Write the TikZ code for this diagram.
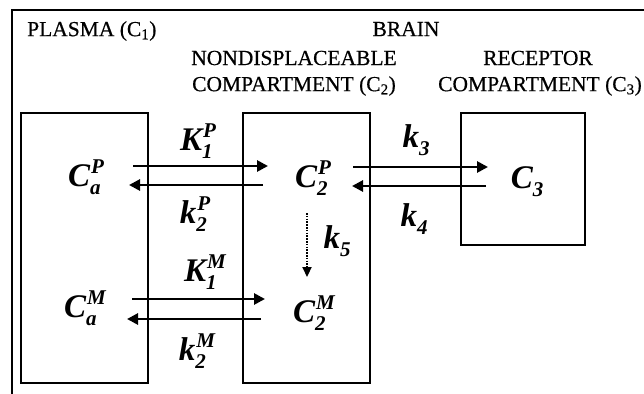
\documentclass[tikz,border=0pt]{standalone}
\usepackage{fontspec}
\setmainfont{Liberation Serif}
\newfontfamily\headfont{Liberation Serif}[FakeBold=0.5]
\usetikzlibrary{arrows.meta}
% symbol with subscript and superscript stacked after it
\newsavebox\supbox
\newsavebox\subbox
\newcommand\csym[3]{#1%
  \sbox\supbox{\fontsize{21}{21}\selectfont #3}%
  \sbox\subbox{\fontsize{21}{21}\selectfont #2}%
  \kern1pt\rlap{\raisebox{13pt}{\usebox\supbox}}%
  \kern-1pt\raisebox{-8pt}{\usebox\subbox}%
  \ifdim\wd\supbox>\wd\subbox \kern\dimexpr\wd\supbox-\wd\subbox+1pt\relax\fi}
\newcommand\csub[2]{#1\raisebox{-8pt}{\fontsize{21}{21}\selectfont #2}}
\begin{document}
\begin{tikzpicture}[x=1pt,y=-1pt,
  comp/.style={draw,line width=2.8pt,inner sep=0pt,outer sep=0pt},
  head/.style={font=\headfont\fontsize{21.5}{23}\selectfont,inner sep=0pt},
  sym/.style={font=\fontsize{33}{35}\selectfont\bfseries\itshape,inner sep=0pt},
  flow/.style={line width=2.7pt,-{Triangle[length=11pt,width=11pt]}},
  slowflow/.style={line width=2.2pt,dash pattern=on 1.6pt off 1.2pt,-{Triangle[length=10pt,width=9pt]}}]
\useasboundingbox (0,0) rectangle (644,393);

% open frame round the whole scheme
\coordinate (frameTR) at (646,10);
\coordinate (frameTL) at (12,10);
\coordinate (frameBL) at (12,395);
\draw[line width=2.2pt] (frameTR) -- (frameTL) -- (frameBL);

% headings
\node[head,anchor=west] (hplasma) at (27,31) {PLASMA (C\textsubscript{1})};
\node[head] (hbrain) at (406,29) {BRAIN};
\node[head] (hnd1) at (294,58) {NONDISPLACEABLE};
\node[head] (hnd2) at (294,86) {COMPARTMENT (C\textsubscript{2})};
\node[head] (hrec1) at (538,58) {RECEPTOR};
\node[head] (hrec2) at (540,86) {COMPARTMENT (C\textsubscript{3})};

% compartments
\node[comp,minimum width=127pt,minimum height=270pt] (plasma) at (84.5,248) {};
\node[comp,minimum width=127pt,minimum height=270pt] (nondisp) at (306.5,248) {};
\node[comp,minimum width=124pt,minimum height=132pt] (receptor) at (523,179) {};

% concentrations
\node[sym] (CaP) at (86,177) {\csym{C}{a}{P}};
\node[sym] (CaM) at (85,308) {\csym{C}{a}{M}};
\node[sym] (C2P) at (313,178) {\csym{C}{2}{P}};
\node[sym] (C2M) at (314,313) {\csym{C}{2}{M}};
\node[sym] (C3) at (527,182) {\csub{C}{3}};

% rate constants
\node[sym] (K1P) at (198,141) {\csym{K}{1}{P}};
\node[sym] (k2P) at (195,214) {\csym{k}{2}{P}};
\node[sym] (K1M) at (205,272) {\csym{K}{1}{M}};
\node[sym] (k2M) at (197,351) {\csym{k}{2}{M}};
\node[sym] (k3) at (416,140) {\csub{k}{3}};
\node[sym] (k4) at (414,219) {\csub{k}{4}};
\node[sym] (k5) at (337,241) {\csub{k}{5}};

% arrow end points
\coordinate (pA) at (133,166);  \coordinate (pB) at (268,166);
\coordinate (pC) at (263,185);  \coordinate (pD) at (129,185);
\coordinate (mA) at (132,299);  \coordinate (mB) at (265,299);
\coordinate (mC) at (261,319);  \coordinate (mD) at (127,319);
\coordinate (rA) at (353,167);  \coordinate (rB) at (488,167);
\coordinate (rC) at (486,186);  \coordinate (rD) at (352,186);
\coordinate (dA) at (307,213);  \coordinate (dB) at (307,277);

\draw[flow] (pA) -- (pB);
\draw[flow] (pC) -- (pD);
\draw[flow] (mA) -- (mB);
\draw[flow] (mC) -- (mD);
\draw[flow] (rA) -- (rB);
\draw[flow] (rC) -- (rD);
\draw[slowflow] (dA) -- (dB);
\end{tikzpicture}
\end{document}
